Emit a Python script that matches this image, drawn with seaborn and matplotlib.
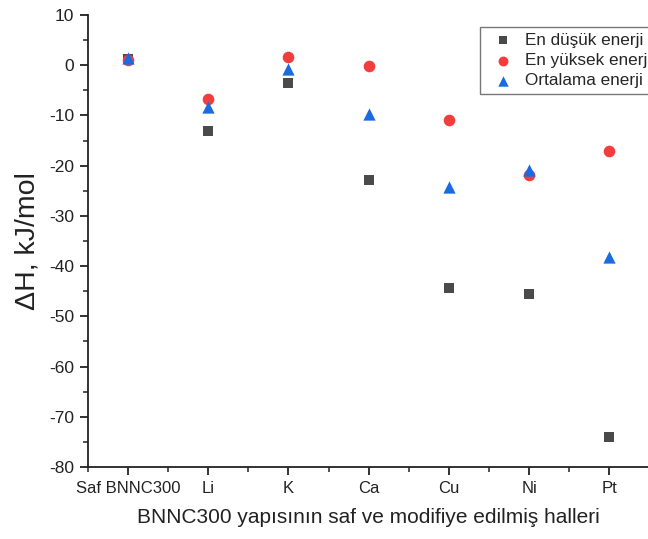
import matplotlib
matplotlib.use("Agg")
import matplotlib.pyplot as plt
import seaborn as sns
import pandas as pd
from matplotlib.ticker import MultipleLocator, FixedLocator

categories = ["Saf BNNC300", "Li", "K", "Ca", "Cu", "Ni", "Pt"]
en_dusuk = [1.2, -13.1, -3.5, -22.8, -44.3, -45.5, -74.0]
en_yuksek = [1.0, -6.8, 1.6, -0.2, -11.0, -21.8, -17.0]
ortalama = [1.5, -8.3, -0.8, -9.8, -24.3, -20.8, -38.2]

series_names = ["En düşük enerji", "En yüksek enerji", "Ortalama enerji"]

df = pd.DataFrame({
    "kategori": categories * 3,
    "dH": en_dusuk + en_yuksek + ortalama,
    "seri": [n for n in series_names for _ in categories],
})

sns.set_style("ticks")
plt.rcParams["font.family"] = ["Liberation Sans", "DejaVu Sans"]
plt.rcParams["axes.unicode_minus"] = False

fig = plt.figure(figsize=(6.48, 5.39), dpi=100)
ax = fig.add_axes([88 / 648, 1 - 467 / 539, 1 - 88 / 648 + 0.002, (467 - 15) / 539])

palette = {"En düşük enerji": "#4a4a4a",
           "En yüksek enerji": "#f23d3d",
           "Ortalama enerji": "#1a6be0"}
markers = {"En düşük enerji": "s",
           "En yüksek enerji": "o",
           "Ortalama enerji": "^"}
sizes = {"En düşük enerji": 48, "En yüksek enerji": 70, "Ortalama enerji": 78}

for name in series_names:
    sub = df[df["seri"] == name]
    sns.scatterplot(data=sub, x="kategori", y="dH", ax=ax, color=palette[name],
                    marker=markers[name], s=sizes[name], linewidth=0,
                    label=name, zorder=3)

ax.set_xlim(-0.5, 6.5)
ax.set_ylim(-80, 10)
ax.yaxis.set_major_locator(MultipleLocator(10))
ax.yaxis.set_minor_locator(MultipleLocator(5))
ax.xaxis.set_major_locator(FixedLocator(range(len(categories))))
ax.set_xticklabels(categories)
ax.xaxis.set_minor_locator(FixedLocator([i + 0.5 for i in range(-1, len(categories))]))

for side in ["top", "right"]:
    ax.spines[side].set_visible(False)
for side in ["left", "bottom"]:
    ax.spines[side].set_linewidth(1.3)
    ax.spines[side].set_color("#222222")

ax.tick_params(axis="both", which="major", direction="out", length=6, width=1.3,
               labelsize=12, colors="#222222", pad=4)
ax.tick_params(axis="both", which="minor", direction="out", length=3.5, width=1.1,
               colors="#222222")
ax.tick_params(axis="y", labelsize=12.5)

ax.set_xlabel("BNNC300 yapısının saf ve modifiye edilmiş halleri", fontsize=15,
              color="#222222", labelpad=9)
ax.set_ylabel("ΔH, kJ/mol", fontsize=20.5, color="#222222", labelpad=6)

leg = ax.legend(loc="upper left", bbox_to_anchor=(480 / 648, 1 - 27 / 539),
                bbox_transform=fig.transFigure, frameon=True, fancybox=False,
                fontsize=12.3, handletextpad=0.3, borderpad=0.35,
                labelspacing=0.3, markerscale=0.85, handlelength=2.0,
                borderaxespad=0)
leg.get_frame().set_edgecolor("#555555")
leg.get_frame().set_linewidth(1.0)

fig.savefig("out.png", dpi=100)
